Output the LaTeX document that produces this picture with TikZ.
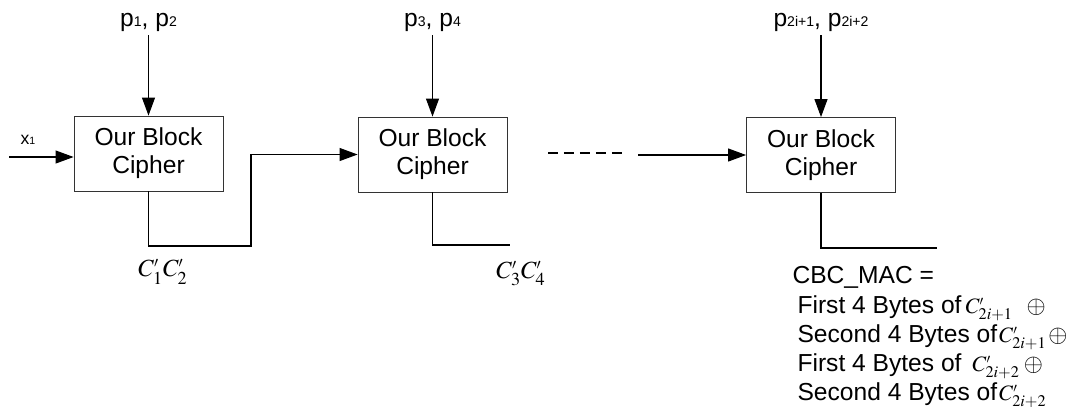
\documentclass[tikz,border=0pt]{standalone}
\usepackage{amsmath}
\usepackage{mathptmx}
\usepackage{fontspec}
\setmainfont{Liberation Sans}
\usepackage{tikz}
\usetikzlibrary{arrows.meta}

\newcommand{\sidx}[1]{{\fontsize{8}{8}\selectfont #1}}
\newcommand{\cprime}[1]{{\fontsize{12.5}{12.5}\selectfont$C^{\scriptscriptstyle\prime}_{#1}$}}

\begin{document}
\begin{tikzpicture}[x=0.02cm, y=-0.02cm, line width=0.6pt,
    cipher/.style={draw=black!80, line width=0.5pt, minimum width=2.98cm, minimum height=1.5cm, align=center,
        font=\fontsize{14}{16}\selectfont},
    arr/.style={-{Triangle[length=0.36cm, width=0.26cm]}},
    plabel/.style={font=\fontsize{14}{15}\selectfont, inner sep=2pt},
    macline/.style={anchor=base west, inner sep=0pt, font=\fontsize{14}{16}\selectfont}]
             \useasboundingbox (0,0) rectangle (1070,406);

             \node[cipher] (bc1) at (148.5,153.5) {Our Block\\Cipher};
             \node[cipher] (bc2) at (432.5,154.5) {Our Block\\Cipher};
             \node[cipher] (bc3) at (821,155) {Our Block\\Cipher};

             \node[plabel] (p12) at (148.5,22) {p\sidx{1}, p\sidx{2}};
             \node[plabel] (p34) at (432.5,22) {p\sidx{3}, p\sidx{4}};
             \node[plabel] (p3i) at (821,22) {p\sidx{2i+1}, p\sidx{2i+2}};
             \draw[arr] (p12) -- (bc1);
             \draw[arr] (p34) -- (bc2);
             \draw[arr] (p3i) -- (bc3);

             \node[font=\fontsize{10}{10}\selectfont] (x1) at (28,140) {x{\fontsize{6}{6}\selectfont 1}};
             \coordinate (in1) at (9,157);
             \draw[arr] (in1) -- (in1 -| bc1.west);

             % chaining
             \coordinate (j1) at (251,246);
             \draw[arr] (bc1.south) |- (j1) |- (bc2.west);
             \node[font=\fontsize{14}{14}\selectfont] (c12) at (163,272) {$C^{\scriptscriptstyle\prime}_{1}C^{\scriptscriptstyle\prime}_{2}$};

             \coordinate (o2) at (510,245);
             \draw (bc2.south) |- (o2);
             \node[font=\fontsize{14}{14}\selectfont] (c34) at (521,274) {$C^{\scriptscriptstyle\prime}_{3}C^{\scriptscriptstyle\prime}_{4}$};

             \coordinate (d1) at (548,153);
             \coordinate (d2) at (627,153);
             \draw[dash pattern=on 5.7pt off 3.4pt] (d1) -- (d2);
             \coordinate (d3) at (638,155);
             \draw[arr] (d3) -- (d3 -| bc3.west);

             \coordinate (o3) at (937,248);
             \draw (bc3.south) |- (o3);
             \node[anchor=west, font=\fontsize{14}{16}\selectfont, inner sep=0pt] (mac) at (792,277) {CBC\_MAC =};
             \node[macline] (m1) at (797,313) {First 4 Bytes of\,\cprime{2i+1} \ $\oplus$};
             \node[macline] (m2) at (797,342) {Second 4 Bytes of\hspace{1.2pt}\cprime{2i+1}\hspace{1pt}$\oplus$};
             \node[macline] (m3) at (797,371) {First 4 Bytes of \,\cprime{2i+2}\,$\oplus$};
             \node[macline] (m4) at (797,400) {Second 4 Bytes of\hspace{1.2pt}\cprime{2i+2}};
             \end{tikzpicture}
\end{document}
